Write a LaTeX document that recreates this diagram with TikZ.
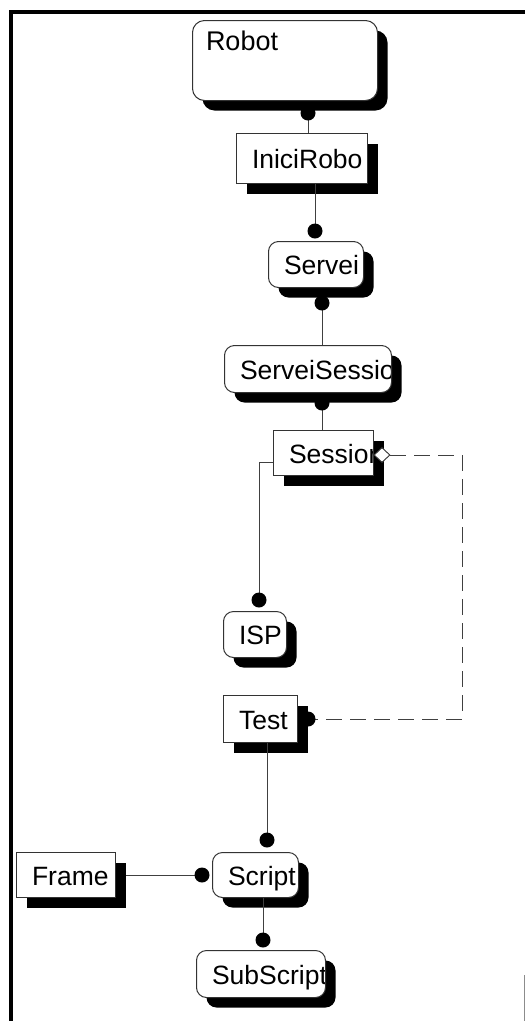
\documentclass[tikz,border=0pt]{standalone}
\usepackage{fontspec}
\setmainfont{Liberation Sans}
\usetikzlibrary{shadows,shapes.geometric}
\begin{document}
\begin{tikzpicture}[x=1pt,y=-1pt,
  fr/.style={draw=black!80, line width=1pt, fill=white, inner sep=0pt, anchor=north west,
    drop shadow={shadow xshift=10pt, shadow yshift=-10pt, fill=black, opacity=1}},
  rbox/.style={fr, rounded corners=10pt},
  txt/.style={anchor=base west, inner sep=0pt, minimum width=0pt, minimum height=0pt,
    draw=none, fill=none, font=\fontsize{26.5}{30}\selectfont},
  lbl/.style={path picture={\node[txt]
      at ([xshift=15pt, yshift=-10pt]path picture bounding box.west) {#1};}},
  conn/.style={draw=black!75, line width=0.9pt},
  dashconn/.style={conn, dash pattern=on 16pt off 8pt},
  dotr/.style={fill=black},
  frameline/.style={line width=4pt, draw=black}
]
\useasboundingbox (0,0) rectangle (525,1021);

% outer frame
\draw[frameline] (11,1021) -- (11,12) -- (525,12);
\draw[black!45, line width=1pt] (524.5,975) -- (524.5,1021);

% boxes
\node[rbox, rounded corners=12pt, minimum width=185pt, minimum height=80pt,
  path picture={\node[txt, font=\fontsize{27}{30}\selectfont]
    at ([xshift=13pt, yshift=-30pt]path picture bounding box.north west) {Robot};}] (robot) at (192,20) {};
\node[fr, minimum width=131pt, minimum height=50pt, lbl=IniciRobo] (inici) at (236,133) {};
\node[rbox, minimum width=95pt, minimum height=46pt, lbl=Servei] (servei) at (268,241) {};
\node[rbox, minimum width=167pt, minimum height=47pt, lbl=ServeiSessio] (sservei) at (224,345) {};
\node[fr, minimum width=100pt, minimum height=45pt, lbl=Session] (session) at (273,430) {};
\node[rbox, minimum width=63pt, minimum height=46pt, lbl=ISP] (isp) at (223,611) {};
\node[fr, minimum width=74pt, minimum height=47pt, lbl=Test] (test) at (223,695) {};
\node[rbox, minimum width=86pt, minimum height=45pt, lbl=Script] (script) at (212,852) {};
\node[fr, minimum width=99pt, minimum height=45pt, lbl=Frame] (frame) at (16,852) {};
\node[rbox, minimum width=129pt, minimum height=47pt, lbl=SubScript] (subscript) at (196,950) {};

\node[diamond, draw=black!80, fill=white, line width=0.9pt, minimum width=16pt,
  minimum height=15pt, inner sep=0pt] (dia) at (382,455) {};

% dot coordinates
\coordinate (d1) at (308,113);
\coordinate (d2) at (315,231);
\coordinate (d3) at (322,303);
\coordinate (d4) at (322,403);
\coordinate (d5) at (259,600);
\coordinate (d6) at (308,719);
\coordinate (d7) at (267,840);
\coordinate (d8) at (202,875);
\coordinate (d9) at (263,940);
\coordinate (cx) at (462,0);

% connectors
\draw[conn] (d1) -- (d1 |- inici.north);
\draw[conn] (d2 |- inici.south) -- (d2);
\draw[conn] (d3) -- (d3 |- sservei.north);
\draw[conn] (d4) -- (d4 |- session.north);
\draw[conn] ([yshift=-9pt]session.west) -| (d5);
\draw[dashconn] (dia.east) -| (cx |- d6) -- (d6);
\draw[conn] (d7 |- test.south) -- (d7);
\draw[conn] ([xshift=10pt]frame.east) -- (d8);
\draw[conn] (d9 |- script.south) -- (d9);

% dots
\foreach \d in {d1,d2,d3,d4,d5,d6,d7,d8,d9}
  \fill[dotr] (\d) circle (7.5pt);

\end{tikzpicture}
\end{document}
